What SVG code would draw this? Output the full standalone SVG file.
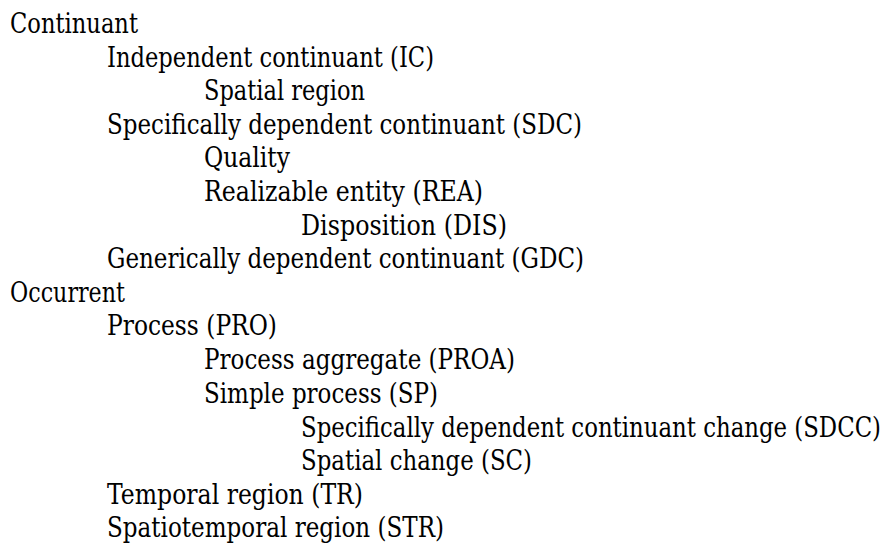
<svg xmlns="http://www.w3.org/2000/svg" width="892" height="544" viewBox="0 0 892 544">
<style>
.t text { font-family: 'DejaVu Serif', 'Liberation Serif', serif; font-size: 27px; fill: #000000; }
</style>
<rect width="892" height="544" fill="#ffffff"/>
<g class="t">
<g id="continuant"><text x="10" y="33" textLength="128" lengthAdjust="spacingAndGlyphs">Continuant</text></g>
<g id="ic"><text x="107" y="66.6" textLength="327" lengthAdjust="spacingAndGlyphs">Independent continuant (IC)</text></g>
<g id="spatial-region"><text x="204" y="100.2" textLength="161" lengthAdjust="spacingAndGlyphs">Spatial region</text></g>
<g id="sdc"><text x="107" y="133.8" textLength="475" lengthAdjust="spacingAndGlyphs">Specifically dependent continuant (SDC)</text></g>
<g id="quality"><text x="204" y="167.4" textLength="86" lengthAdjust="spacingAndGlyphs">Quality</text></g>
<g id="rea"><text x="204" y="201" textLength="279" lengthAdjust="spacingAndGlyphs">Realizable entity (REA)</text></g>
<g id="dis"><text x="301" y="234.6" textLength="206" lengthAdjust="spacingAndGlyphs">Disposition (DIS)</text></g>
<g id="gdc"><text x="107" y="268.2" textLength="477" lengthAdjust="spacingAndGlyphs">Generically dependent continuant (GDC)</text></g>
<g id="occurrent"><text x="10" y="301.8" textLength="115" lengthAdjust="spacingAndGlyphs">Occurrent</text></g>
<g id="pro"><text x="107" y="335.4" textLength="170" lengthAdjust="spacingAndGlyphs">Process (PRO)</text></g>
<g id="proa"><text x="204" y="369" textLength="311" lengthAdjust="spacingAndGlyphs">Process aggregate (PROA)</text></g>
<g id="sp"><text x="204" y="402.6" textLength="234" lengthAdjust="spacingAndGlyphs">Simple process (SP)</text></g>
<g id="sdcc"><text x="301" y="437" textLength="580" lengthAdjust="spacingAndGlyphs">Specifically dependent continuant change (SDCC)</text></g>
<g id="sc"><text x="301" y="470.2" textLength="231" lengthAdjust="spacingAndGlyphs">Spatial change (SC)</text></g>
<g id="tr"><text x="107" y="503.6" textLength="256" lengthAdjust="spacingAndGlyphs">Temporal region (TR)</text></g>
<g id="str"><text x="107" y="537" textLength="337" lengthAdjust="spacingAndGlyphs">Spatiotemporal region (STR)</text></g>
</g>
<g id="connectors"></g>
</svg>
